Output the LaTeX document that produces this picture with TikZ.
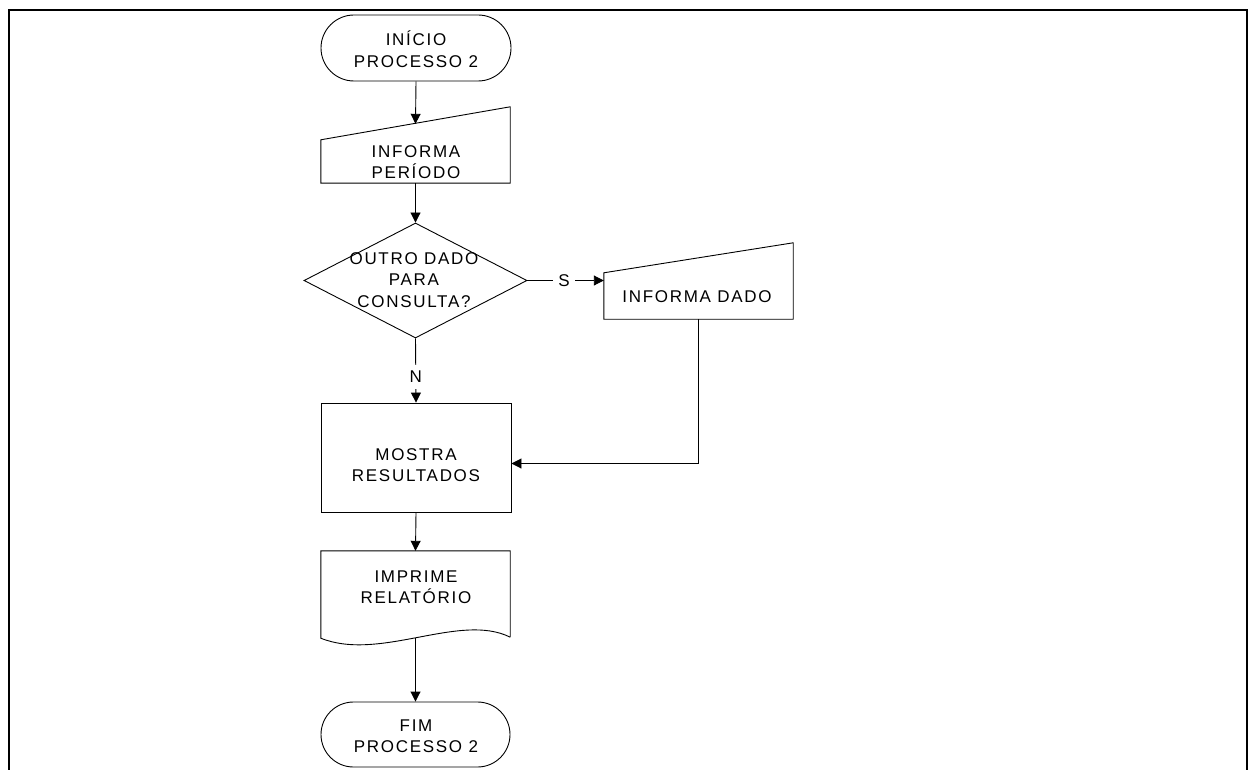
\documentclass[tikz,border=0pt]{standalone}
\usepackage{fontspec}
\setmainfont[LetterSpace=10]{Liberation Sans}
\usetikzlibrary{shapes.geometric,shapes.misc,arrows.meta,calc}

\begin{document}
\begin{tikzpicture}[x=1pt,y=-1pt,
  outline/.style={line width=0.9pt},
  box/.style={rectangle, inner sep=0pt},
  term/.style={rounded rectangle, draw, outline, inner sep=0pt},
  decision/.style={diamond, draw, outline, inner sep=0pt},
  txt/.style={align=center, inner sep=0pt, font=\fontsize{17}{21.5}\selectfont},
  arr/.style={outline, -{Triangle[length=10pt,width=10pt]}},
  tag/.style={fill=white, font=\fontsize{17}{18}\selectfont}]

% page area and open frame
\useasboundingbox (0,0) rectangle (1250,770);
\draw[line width=2pt] (9,771) -- (9,10) -- (1247,10) -- (1247,771);

% start terminal
\node[term, minimum width=190pt, minimum height=66pt] (ini) at (416,48) {};
\node[txt] (tini) at (416,49) {INÍCIO\\PROCESSO 2};

% manual input: period
\node[box, minimum width=189pt, minimum height=76pt] (inp) at (415.5,145) {};
\draw[outline] (inp.south west) -- (inp.south east) -- (inp.north east)
  -- ($(inp.north west)+(0,33)$) -- cycle;
\node[txt] (tinp) at (416,162) {INFORMA\\PERÍODO};

% decision
\node[decision, minimum width=223pt, minimum height=115pt] (d) at (415.5,280.5) {};
\node[txt] (td) at (414,280) {OUTRO DADO\\PARA\\CONSULTA?};

% manual input: data
\node[box, minimum width=189pt, minimum height=76pt] (dado) at (698.5,281) {};
\draw[outline] (dado.south west) -- (dado.south east) -- (dado.north east)
  -- ($(dado.north west)+(0,30)$) -- cycle;
\node[txt] (tdado) at (697,297) {INFORMA DADO};

% process
\node[box, draw, outline, minimum width=190pt, minimum height=109pt] (mos) at (416,457.5) {};
\node[txt] (tmos) at (416,465) {MOSTRA\\RESULTADOS};

% document
\node[box, minimum width=189pt, minimum height=86pt] (doc) at (415.5,594) {};
\draw[outline] (doc.south east) -- (doc.north east) -- (doc.north west) -- ($(doc.south west)+(0,1)$)
  .. controls (380,662) and (460,612) .. (doc.south east);
\node[txt] (tdoc) at (416,587) {IMPRIME\\RELATÓRIO};

% end terminal
\node[term, minimum width=189pt, minimum height=65pt] (fim) at (415.5,734.5) {};
\node[txt] (tfim) at (416,736) {FIM\\PROCESSO 2};

% connectors
\draw[arr] (ini.south) -- ($(inp.north)+(0,17)$);
\draw[arr] (inp.south) -- (d.north);
\draw[arr] (d.east) -- node[tag, pos=0.48, inner xsep=5pt, inner ysep=0pt] (s) {S} (dado.west |- d.east);
\draw[arr] (d.south) -- node[tag, pos=0.6, inner xsep=0pt, inner ysep=6pt] (n) {N} (mos.north);
\draw[arr] (dado.south) |- ($(mos.east)+(0,6)$);
\draw[arr] (mos.south) -- (doc.north);
\draw[arr] ($(doc.south)+(0,1)$) -- (fim.north);
\end{tikzpicture}
\end{document}
